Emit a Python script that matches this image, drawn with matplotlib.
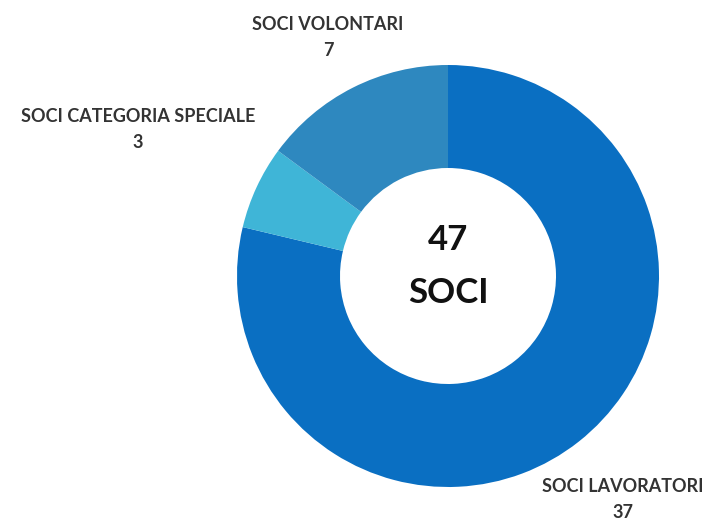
import matplotlib
matplotlib.use('Agg')
import matplotlib.pyplot as plt

# data
labels = ["SOCI LAVORATORI", "SOCI CATEGORIA SPECIALE", "SOCI VOLONTARI"]
values = [37, 3, 7]
colors = ["#0A6FC2", "#3FB5D7", "#2E88BF"]
total_label = "SOCI"

# label positions in pixel coords (x, y from top)
label_pos = [(623, 486), (138, 117), (328, 25)]

plt.rcParams['font.family'] = ['Lato', 'DejaVu Sans']

fig = plt.figure(figsize=(7.10, 5.19), dpi=100)
ax = fig.add_axes([0, 0, 1, 1])
ax.set_xlim(0, 710)
ax.set_ylim(0, 519)
ax.set_aspect('equal')
ax.axis('off')

H = 519
cx, cy = 448, H - 276
ax.pie(values, colors=colors, startangle=90, counterclock=False,
       radius=211, center=(cx, cy),
       wedgeprops=dict(width=103, linewidth=0))

# restore limits (pie changes them)
ax.set_xlim(0, 710)
ax.set_ylim(0, 519)

for lab, val, (x, y) in zip(labels, values, label_pos):
    ax.text(x, H - y, lab, ha='center', va='center', fontsize=13,
            fontweight='bold', color='#333333')
    ax.text(x, H - y - 26, str(val), ha='center', va='center',
            fontsize=13, fontweight='bold', color='#333333')

ax.text(cx, H - 240, str(sum(values)), ha='center', va='center',
        fontsize=25, fontweight='bold', color='#111111')
ax.text(cx, H - 293, total_label, ha='center', va='center',
        fontsize=25, fontweight='bold', color='#111111')

fig.savefig("out.png", dpi=100)
plt.close()
